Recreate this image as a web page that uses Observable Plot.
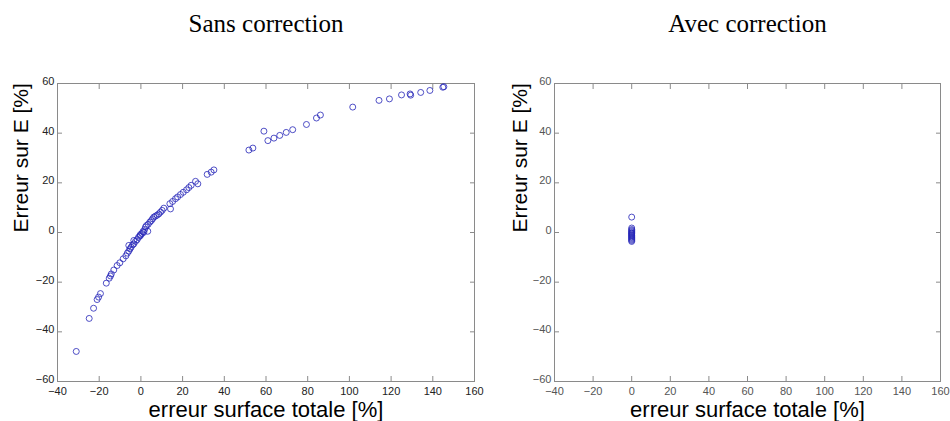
<!DOCTYPE html>
<html>
<head>
<meta charset="utf-8">
<script src="https://cdn.jsdelivr.net/npm/d3@7"></script>
<script src="https://cdn.jsdelivr.net/npm/@observablehq/plot@0.6"></script>
<style>
  html, body { margin: 0; padding: 0; background: #fff; }
  #wrap { position: relative; width: 950px; height: 421px; overflow: hidden; }
  #wrap svg { position: absolute; top: 0; overflow: visible; }
</style>
</head>
<body>
<div id="wrap"></div>
<script>
// ---- data ----
const titles = ["Sans correction", "Avec correction"];
const xLabel = "erreur surface totale [%]";
const yLabel = "Erreur sur E [%]";
const xTicks = [-40, -20, 0, 20, 40, 60, 80, 100, 120, 140, 160];
const yTicks = [-60, -40, -20, 0, 20, 40, 60];

// Sans correction: erreur surface totale [%]
const sansX = [-31.0,-24.8,-22.7,-21.0,-20.3,-19.4,-16.6,-15.2,-14.6,-14.2,-13.0,-11.4,-10.1,-8.5,-7.2,-6.5,-5.8,-5.8,-5.2,-4.7,-4.0,-3.4,-3.4,-2.6,-1.8,-1.2,-0.6,-0.2,-0.2,0.5,1.0,1.4,1.8,2.2,2.7,3.3,3.5,4.3,5.0,5.6,6.2,7.0,7.8,8.6,9.4,10.2,11.0,13.9,14.2,15.2,16.6,17.6,19.0,20.3,21.9,23.0,24.1,26.2,27.3,31.8,33.7,35.0,51.8,53.7,59.0,60.9,63.8,66.6,69.7,72.8,79.4,84.2,86.1,101.6,114.2,119.2,125.0,129.1,129.4,134.2,138.6,144.8,145.3];
// Sans correction: Erreur sur E [%]
const sansY = [-47.9,-34.6,-30.5,-27.0,-26.0,-24.6,-20.4,-18.4,-17.5,-16.7,-15.1,-13.3,-12.2,-10.6,-9.4,-8.3,-7.5,-5.2,-6.6,-5.9,-5.0,-4.6,-3.2,-3.6,-2.9,-2.0,-1.5,-1.2,-0.8,-0.4,0.4,0.1,1.2,2.2,2.8,0.5,3.3,4.2,4.8,5.5,6.2,6.6,7.0,7.5,8.2,8.9,9.8,11.6,9.5,12.5,13.6,14.3,15.3,16.2,17.2,18.1,19.0,20.6,19.6,23.4,24.3,25.2,33.2,34.0,40.8,37.0,38.0,39.1,40.3,41.4,43.5,46.1,47.3,50.5,53.2,53.8,55.4,55.8,55.3,56.4,57.2,58.5,58.7];

// Avec correction
const avecX = [0.0,0.0,0.0,0.0,0.0,0.0,0.0,0.0,0.0,0.0,0.0,0.0,0.0,0.0,0.0,0.0];
const avecY = [6.2,1.8,1.2,0.8,0.4,0.0,-0.3,-0.6,-1.0,-1.3,-1.7,-2.0,-2.4,-2.8,-3.2,-3.6];

const sansData = sansX.map((x, i) => ({x, y: sansY[i]}));
const avecData = avecX.map((x, i) => ({x, y: avecY[i]}));

function panel({data, title, left, width, marginLeft, marginRight, tickColor, ylabelDx}) {
  const fontAxis = "Liberation Sans, Arial, sans-serif";
  const svg = Plot.plot({
    width, height: 421,
    marginLeft, marginRight, marginTop: 83, marginBottom: 40,
    style: {fontFamily: fontAxis, background: "transparent", color: tickColor},
    x: {domain: [-40, 160]},
    y: {domain: [-60, 60]},
    marks: [
      Plot.frame({stroke: "#8a8a8a", strokeWidth: 1}),
      Plot.axisX(xTicks, {anchor: "bottom", tickSize: 0, tickPadding: 6, fontSize: 11, label: null, fill: tickColor}),
      Plot.axisX(xTicks, {anchor: "bottom", tickSize: -5, tickFormat: () => "", label: null, stroke: "#8a8a8a"}),
      Plot.axisX(xTicks, {anchor: "top", tickSize: -5, tickFormat: () => "", label: null, stroke: "#8a8a8a"}),
      Plot.axisY(yTicks, {anchor: "left", tickSize: 0, tickPadding: 3, fontSize: 11, label: null, fill: tickColor, dy: -2}),
      Plot.axisY(yTicks, {anchor: "left", tickSize: -5, tickFormat: () => "", label: null, stroke: "#8a8a8a"}),
      Plot.axisY(yTicks, {anchor: "right", tickSize: -5, tickFormat: () => "", label: null, stroke: "#8a8a8a"}),
      Plot.dot(data, {x: "x", y: "y", r: 3, stroke: "#2424b8", strokeWidth: 0.8, fill: "none"}),
      Plot.text([title], {frameAnchor: "top", lineAnchor: "middle", dy: -60, fontSize: 25, fontFamily: "Liberation Serif, Times New Roman, serif", fill: "#000"}),
      Plot.text([xLabel], {frameAnchor: "bottom", lineAnchor: "middle", dy: 28, fontSize: 22, fill: "#000"}),
      Plot.text([yLabel], {frameAnchor: "left", lineAnchor: "middle", rotate: -90, dx: ylabelDx, fontSize: 21, fill: "#000"})
    ]
  });
  svg.style.left = left + "px";
  return svg;
}

const wrap = document.getElementById("wrap");
wrap.appendChild(panel({data: sansData, title: titles[0], left: 0, width: 490, marginLeft: 57, marginRight: 16, tickColor: "#222", ylabelDx: -36}));
wrap.appendChild(panel({data: avecData, title: titles[1], left: 490, width: 460, marginLeft: 64, marginRight: 10, tickColor: "#555", ylabelDx: -34}));
</script>
</body>
</html>
